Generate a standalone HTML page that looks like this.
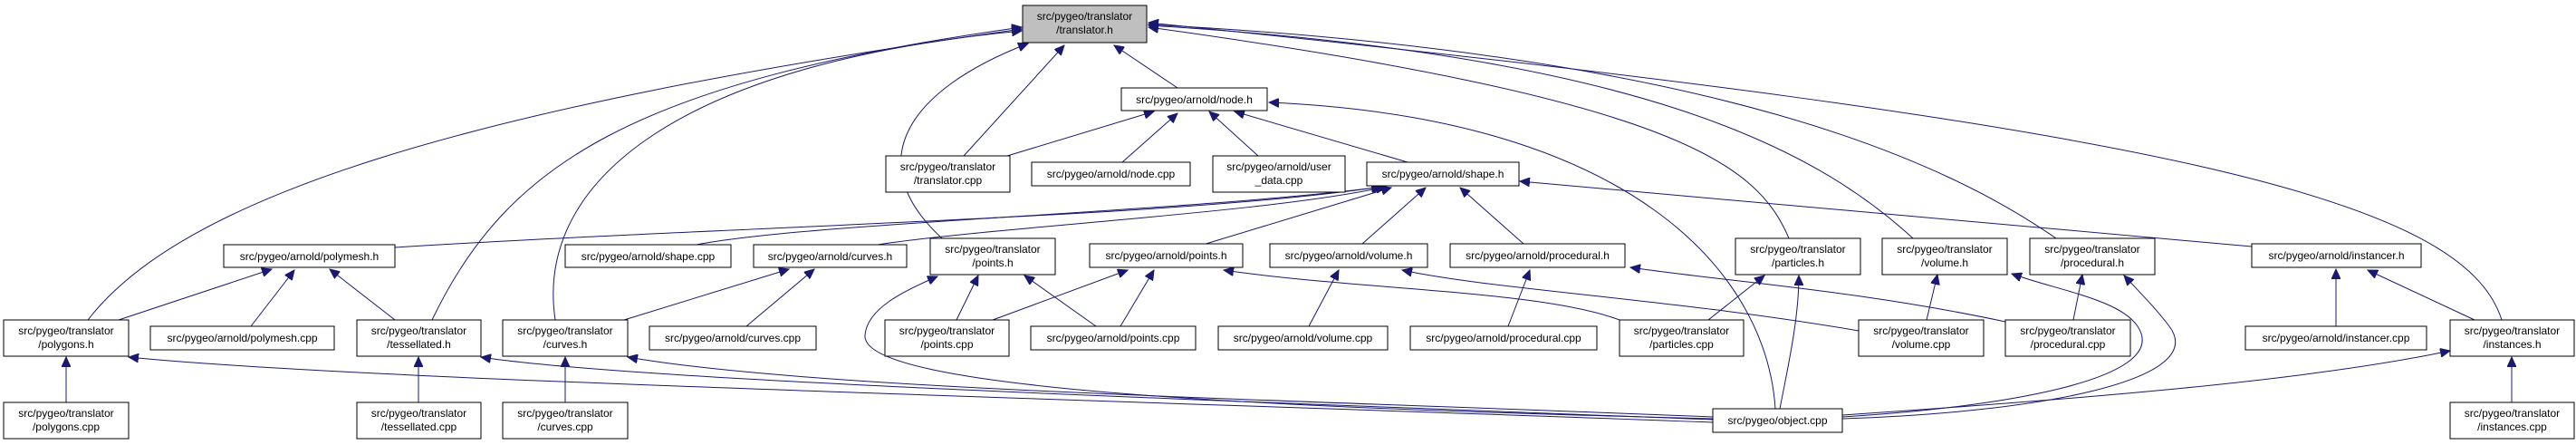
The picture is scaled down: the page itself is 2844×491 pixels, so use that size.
<!DOCTYPE html>
<html><head><meta charset="utf-8"><style>
html,body{margin:0;padding:0;background:#fff;}
svg{display:block;}
text{font-family:"Liberation Sans",sans-serif;font-size:12px;fill:#000;text-anchor:middle;}
.b{fill:#fff;stroke:#000;stroke-width:1;}
.e{fill:none;stroke:#191970;stroke-width:1;}
</style></head><body>
<svg width="2844" height="491" viewBox="0 0 2844 491" xmlns="http://www.w3.org/2000/svg">
<defs><marker id="a" markerUnits="userSpaceOnUse" markerWidth="12" markerHeight="10" refX="11" refY="5" orient="auto"><path d="M0,0 L11,5 L0,10 z" fill="#191970" stroke="#191970"/></marker></defs>
<g class="e" marker-end="url(#a)">
<path d="M97,353 C200,220 500,120 1128,32"/>
<path d="M477,353 C560,180 700,90 1128,30"/>
<path d="M613,353 C590,200 750,70 1128,34"/>
<path d="M1040,263 C950,180 1000,100 1135,48"/>
<path d="M1064,172 L1175,50"/>
<path d="M1300,97 L1230,50"/>
<path d="M1975,263 C1940,180 1850,110 1268,30"/>
<path d="M2112,263 C2000,160 1800,60 1268,28"/>
<path d="M2270,263 C2150,180 1900,60 1268,27"/>
<path d="M2762,353 C2720,220 2400,140 1268,25"/>
<path d="M1112,172 L1274,123"/>
<path d="M1239,179 L1300,125"/>
<path d="M1389,172 L1335,123"/>
<path d="M1554,179 L1363,123"/>
<path d="M1960,451 C1950,300 1800,130 1401,113"/>
<path d="M436,273 C800,250 1300,240 1525,206"/>
<path d="M769,270 C900,245 1300,235 1527,206"/>
<path d="M969,270 C1100,250 1400,235 1530,206"/>
<path d="M1328,270 L1536,207"/>
<path d="M1504,269 L1574,207"/>
<path d="M1682,269 L1612,207"/>
<path d="M2486,272 L1678,200"/>
<path d="M131,353 L300,297"/>
<path d="M277,360 L325,298"/>
<path d="M436,353 L364,297"/>
<path d="M689,353 L871,297"/>
<path d="M824,360 L899,297"/>
<path d="M1891,462 C1400,450 950,430 955,370 C957,340 1000,320 1035,305"/>
<path d="M1056,353 L1080,304"/>
<path d="M1210,360 L1131,304"/>
<path d="M1096,353 L1245,298"/>
<path d="M1237,360 L1274,298"/>
<path d="M1788,353 C1700,320 1500,320 1351,298"/>
<path d="M1445,360 L1478,298"/>
<path d="M2052,365 C1850,330 1650,320 1548,298"/>
<path d="M1665,360 L1689,298"/>
<path d="M2214,355 C2050,320 1900,310 1800,295"/>
<path d="M1886,353 L1948,304"/>
<path d="M1965,451 C1975,400 1986,350 1986,304"/>
<path d="M2127,353 L2139,303"/>
<path d="M2034,460 C2200,450 2400,420 2360,360 C2340,330 2270,320 2221,302"/>
<path d="M2289,353 L2299,303"/>
<path d="M2034,462 C2250,455 2440,420 2395,360 C2380,340 2360,320 2345,304"/>
<path d="M2579,360 L2579,297"/>
<path d="M2732,353 L2614,298"/>
<path d="M2773,444 L2773,394"/>
<path d="M2034,458 C2300,440 2550,420 2705,387"/>
<path d="M73,444 L73,394"/>
<path d="M1891,466 C1200,440 400,420 142,394"/>
<path d="M462,444 L462,394"/>
<path d="M1891,463 C1300,440 700,420 531,394"/>
<path d="M624,444 L624,394"/>
<path d="M1891,460 C1400,440 900,430 693,394"/>
</g>
<rect x="1129" y="6" width="137" height="41" fill="#bfbfbf" stroke="#000"/>
<text x="1197.5" y="22">src/pygeo/translator</text><text x="1197.5" y="37">/translator.h</text>
<g class="b">
<rect x="1238" y="97" width="161" height="25"/>
<rect x="978" y="172" width="137" height="40"/>
<rect x="1139" y="179" width="175" height="26"/>
<rect x="1339" y="172" width="146" height="40"/>
<rect x="1509" y="179" width="168" height="26"/>
<rect x="247" y="270" width="189" height="25"/>
<rect x="624" y="270" width="183" height="25"/>
<rect x="832" y="270" width="169" height="25"/>
<rect x="1027" y="263" width="138" height="40"/>
<rect x="1203" y="269" width="169" height="26"/>
<rect x="1402" y="269" width="174" height="26"/>
<rect x="1601" y="269" width="193" height="26"/>
<rect x="1916" y="263" width="138" height="40"/>
<rect x="2078" y="263" width="138" height="40"/>
<rect x="2241" y="263" width="138" height="40"/>
<rect x="2486" y="269" width="187" height="26"/>
<rect x="4" y="353" width="138" height="40"/>
<rect x="166" y="360" width="203" height="26"/>
<rect x="394" y="353" width="137" height="40"/>
<rect x="555" y="353" width="138" height="40"/>
<rect x="717" y="360" width="184" height="26"/>
<rect x="977" y="353" width="137" height="40"/>
<rect x="1138" y="360" width="182" height="26"/>
<rect x="1345" y="360" width="187" height="26"/>
<rect x="1557" y="360" width="206" height="26"/>
<rect x="1788" y="353" width="137" height="40"/>
<rect x="2052" y="353" width="138" height="40"/>
<rect x="2214" y="353" width="138" height="40"/>
<rect x="2479" y="360" width="200" height="26"/>
<rect x="2705" y="353" width="137" height="40"/>
<rect x="4" y="444" width="138" height="40"/>
<rect x="394" y="444" width="137" height="40"/>
<rect x="555" y="444" width="138" height="40"/>
<rect x="2705" y="444" width="137" height="40"/>
<rect x="1891" y="451" width="143" height="26"/>
</g>
<text x="1318.5" y="114">src/pygeo/arnold/node.h</text>
<text x="1046.5" y="188">src/pygeo/translator</text><text x="1046.5" y="203">/translator.cpp</text>
<text x="1226.5" y="196">src/pygeo/arnold/node.cpp</text>
<text x="1412" y="188">src/pygeo/arnold/user</text><text x="1412" y="203">_data.cpp</text>
<text x="1593" y="196">src/pygeo/arnold/shape.h</text>
<text x="341.5" y="287">src/pygeo/arnold/polymesh.h</text>
<text x="715.5" y="287">src/pygeo/arnold/shape.cpp</text>
<text x="916.5" y="287">src/pygeo/arnold/curves.h</text>
<text x="1096" y="279">src/pygeo/translator</text><text x="1096" y="294">/points.h</text>
<text x="1287.5" y="286">src/pygeo/arnold/points.h</text>
<text x="1489" y="286">src/pygeo/arnold/volume.h</text>
<text x="1697.5" y="286">src/pygeo/arnold/procedural.h</text>
<text x="1985" y="279">src/pygeo/translator</text><text x="1985" y="294">/particles.h</text>
<text x="2147" y="279">src/pygeo/translator</text><text x="2147" y="294">/volume.h</text>
<text x="2310" y="279">src/pygeo/translator</text><text x="2310" y="294">/procedural.h</text>
<text x="2579.5" y="286">src/pygeo/arnold/instancer.h</text>
<text x="73" y="369">src/pygeo/translator</text><text x="73" y="384">/polygons.h</text>
<text x="267.5" y="377">src/pygeo/arnold/polymesh.cpp</text>
<text x="462.5" y="369">src/pygeo/translator</text><text x="462.5" y="384">/tessellated.h</text>
<text x="624" y="369">src/pygeo/translator</text><text x="624" y="384">/curves.h</text>
<text x="809" y="377">src/pygeo/arnold/curves.cpp</text>
<text x="1045.5" y="369">src/pygeo/translator</text><text x="1045.5" y="384">/points.cpp</text>
<text x="1229" y="377">src/pygeo/arnold/points.cpp</text>
<text x="1438.5" y="377">src/pygeo/arnold/volume.cpp</text>
<text x="1660" y="377">src/pygeo/arnold/procedural.cpp</text>
<text x="1856.5" y="369">src/pygeo/translator</text><text x="1856.5" y="384">/particles.cpp</text>
<text x="2121" y="369">src/pygeo/translator</text><text x="2121" y="384">/volume.cpp</text>
<text x="2283" y="369">src/pygeo/translator</text><text x="2283" y="384">/procedural.cpp</text>
<text x="2579" y="377">src/pygeo/arnold/instancer.cpp</text>
<text x="2773.5" y="369">src/pygeo/translator</text><text x="2773.5" y="384">/instances.h</text>
<text x="73" y="460">src/pygeo/translator</text><text x="73" y="475">/polygons.cpp</text>
<text x="462.5" y="460">src/pygeo/translator</text><text x="462.5" y="475">/tessellated.cpp</text>
<text x="624" y="460">src/pygeo/translator</text><text x="624" y="475">/curves.cpp</text>
<text x="2773.5" y="460">src/pygeo/translator</text><text x="2773.5" y="475">/instances.cpp</text>
<text x="1962.5" y="468">src/pygeo/object.cpp</text>
</svg>
</body></html>
